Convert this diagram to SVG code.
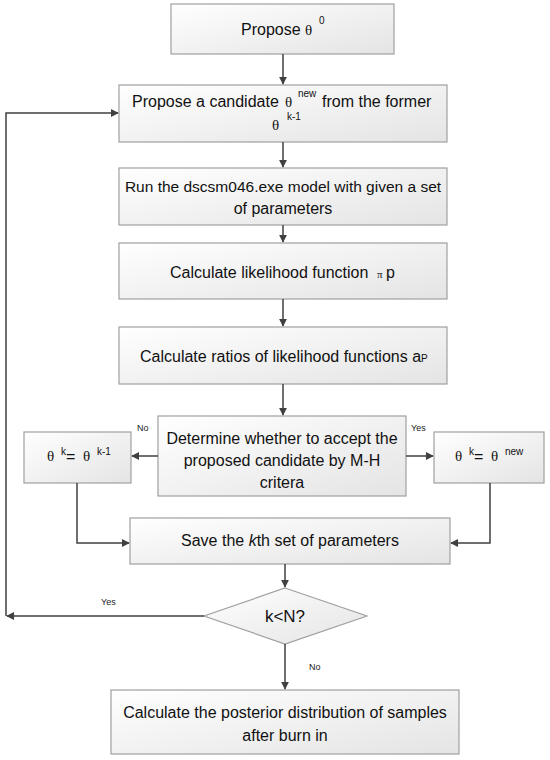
<svg xmlns="http://www.w3.org/2000/svg" width="550" height="760" viewBox="0 0 550 760">
<defs>
<linearGradient id="g" x1="0" y1="0" x2="1" y2="1">
<stop offset="0" stop-color="#ffffff"/>
<stop offset="1" stop-color="#e4e4e4"/>
</linearGradient>
<marker id="ah" viewBox="0 0 10 10" refX="9" refY="5" markerWidth="8" markerHeight="8" markerUnits="userSpaceOnUse" orient="auto">
<path d="M0,0 L10,5 L0,10 z" fill="#404040"/>
</marker>
<style>
.box{fill:url(#g);stroke:#a0a0a0;stroke-width:1.2}
.t{font-family:"Liberation Sans",Arial,sans-serif;font-size:16px;fill:#111}
.m{text-anchor:middle}
.th{font-family:"Liberation Serif","Times New Roman",serif;font-size:15px;fill:#111}
.sup{font-family:"Liberation Sans",Arial,sans-serif;font-size:10px;fill:#111}
.lbl{font-family:"Liberation Sans",Arial,sans-serif;font-size:9px;fill:#222}
.c{fill:none;stroke:#404040;stroke-width:1.5;marker-end:url(#ah)}
</style>
</defs>
<rect width="550" height="760" fill="#ffffff"/>

<g id="n1">
<rect class="box" x="171" y="4" width="223" height="50"/>
<text class="t" x="241" y="35">Propose</text>
<text class="th" x="305" y="35">θ</text>
<text class="sup" x="319" y="24">0</text>
</g>

<g id="n2">
<rect class="box" x="119" y="85" width="328" height="57"/>
<text class="t" x="132" y="107">Propose a candidate</text>
<text class="th" x="285" y="107">θ</text>
<text class="sup" x="298" y="97">new</text>
<text class="t" x="322" y="107">from the former</text>
<text class="th" x="272" y="130">θ</text>
<text class="sup" x="287" y="120">k-1</text>
</g>

<g id="n3">
<rect class="box" x="119" y="168" width="328" height="57"/>
<text class="t m" x="283" y="192" style="font-size:15.5px">Run the dscsm046.exe model with given a set</text>
<text class="t m" x="283" y="214">of parameters</text>
</g>

<g id="n4">
<rect class="box" x="119" y="243" width="328" height="56"/>
<text class="t" x="170" y="278">Calculate likelihood function</text>
<text class="th" x="377" y="278" style="font-size:11px">π</text>
<text class="t" x="386" y="278">p</text>
</g>

<g id="n5">
<rect class="box" x="119" y="327" width="328" height="57"/>
<text class="t" x="140" y="362">Calculate ratios of likelihood functions a<tspan style="font-size:10px">P</tspan></text>
</g>

<g id="n6">
<rect class="box" x="158" y="416" width="248" height="80"/>
<text class="t m" x="282" y="444">Determine whether to accept the</text>
<text class="t m" x="282" y="466">proposed candidate by M-H</text>
<text class="t m" x="282" y="488">critera</text>
</g>

<g id="n7">
<rect class="box" x="24" y="432" width="107" height="51"/>
<text class="th" x="47" y="461">θ</text>
<text class="sup" x="61" y="455">k</text>
<text class="t" x="66" y="462">=</text>
<text class="th" x="83" y="461">θ</text>
<text class="sup" x="97" y="455">k-1</text>
</g>

<g id="n8">
<rect class="box" x="434" y="432" width="110" height="51"/>
<text class="th" x="455" y="461">θ</text>
<text class="sup" x="469" y="455">k</text>
<text class="t" x="474" y="462">=</text>
<text class="th" x="491" y="461">θ</text>
<text class="sup" x="505" y="455">new</text>
</g>

<g id="n9">
<rect class="box" x="130" y="518" width="320" height="46"/>
<text class="t m" x="290" y="546">Save the <tspan font-style="italic">k</tspan>th set of parameters</text>
</g>

<g id="n10">
<polygon class="box" points="285,588 367,616 285,644 204,616"/>
<text class="t m" x="285" y="622" style="font-size:17px">k&lt;N?</text>
</g>

<g id="n11">
<rect class="box" x="111" y="690" width="348" height="64"/>
<text class="t m" x="285" y="718">Calculate the posterior distribution of samples</text>
<text class="t m" x="285" y="741">after burn in</text>
</g>

<g id="connectors">
<path class="c" d="M283,54 V84"/>
<path class="c" d="M283,142 V167"/>
<path class="c" d="M283,225 V242"/>
<path class="c" d="M283,299 V326"/>
<path class="c" d="M283,384 V415"/>
<path class="c" d="M158,456 H132"/>
<path class="c" d="M406,456 H433"/>
<path class="c" d="M77,483 V543 H129"/>
<path class="c" d="M490,483 V543 H451"/>
<path class="c" d="M285,564 V587"/>
<path class="c" d="M204,616 H7"/>
<path class="c" d="M6,616 V113 H118"/>
<path class="c" d="M285,644 V689"/>
</g>

<g id="labels">
<text class="lbl" x="137" y="431">No</text>
<text class="lbl" x="411" y="431">Yes</text>
<text class="lbl" x="101" y="605">Yes</text>
<text class="lbl" x="309" y="670">No</text>
</g>
</svg>
